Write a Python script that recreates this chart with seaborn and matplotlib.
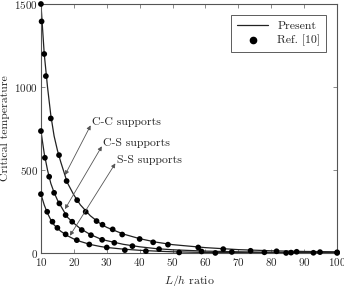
import numpy as np
import pandas as pd
import matplotlib
matplotlib.use("Agg")
import matplotlib.pyplot as plt
import seaborn as sns
from matplotlib.lines import Line2D

# "Present" curves (solid lines)
x_line = [10, 11, 12, 13, 14, 15, 16, 18, 20, 22, 25, 28, 30, 35, 40, 45, 50, 60, 70, 80, 90, 100]
cc_line = [1500, 1200, 1000, 830, 705, 620, 550, 425, 350, 290, 225, 178, 155, 115, 87, 66, 51, 33, 21, 14, 10, 8]
cs_line = [735, 600, 500, 420, 365, 320, 285, 217, 180, 147, 112, 86, 75, 53, 38, 27, 20, 12, 8, 5, 4, 3]
ss_line = [355, 290, 240, 200, 170, 150, 132, 105, 85, 70, 52, 40, 34, 24, 17, 12, 8, 4, 3, 2, 1, 1]

# "Ref. [10]" points
cc_x = [10, 10.2, 11, 11.5, 13, 15.5, 17.8, 21, 23.6, 26.9, 28.7, 31.8, 34.7, 40, 44.1, 48.6, 57.8, 65.4, 73.7, 81.6, 87.7, 94.8, 100]
cc_y = [1500, 1395, 1199, 1066, 811, 590, 434, 319, 249, 193, 171, 143, 112, 85, 65, 51, 34, 24, 14, 11, 8, 6, 5]
cs_x = [10, 11.2, 12.5, 14, 15.6, 17.5, 19.5, 22.4, 25.2, 28.6, 32.3, 37.8, 45.9, 58.8, 68, 77.9, 86, 92.8]
cs_y = [735, 574, 460, 363, 299, 229, 189, 139, 108, 80, 62, 42, 24, 10, 7, 5, 3, 2]
ss_x = [10, 11.9, 13.5, 15, 17.5, 20.9, 24.7, 30, 35.5, 41.9, 52, 63, 84.5, 100]
ss_y = [355, 249, 189, 152, 113, 78, 52, 34, 18, 12, 4, 1, 1, 1]

sns.set_style("ticks")
plt.rcParams["font.family"] = ["cmr10", "DejaVu Serif"]
plt.rcParams["mathtext.fontset"] = "cm"
plt.rcParams["axes.formatter.use_mathtext"] = True

fig = plt.figure(figsize=(3.44, 2.86), dpi=100)
ax = fig.add_axes([0.119, 0.115, 0.861, 0.871])

for yl in [cc_line, cs_line, ss_line]:
    sns.lineplot(x=x_line, y=yl, ax=ax, color="#222222", linewidth=0.9)

for xs, ys in [(cc_x, cc_y), (cs_x, cs_y), (ss_x, ss_y)]:
    sns.scatterplot(x=xs, y=ys, ax=ax, color="black", s=17, edgecolor="none",
                    zorder=3, clip_on=False)

ax.set_xlim(10, 100)
ax.set_ylim(0, 1500)
ax.set_xticks(range(10, 101, 10))
ax.set_yticks([0, 500, 1000, 1500])
ax.tick_params(direction="in", top=True, right=True, labelsize=8, length=3,
               width=0.6, color="#777777", pad=2)
for sp in ax.spines.values():
    sp.set_color("#555555")
    sp.set_linewidth(0.8)

ax.set_xlabel(r"$L/h$ ratio", fontsize=8.5, labelpad=4)
ax.set_ylabel("Critical temperature", fontsize=8.5, labelpad=3)

# annotations with double arrows
notes = [("C-C supports", (25.5, 789), (17.3, 470)),
         ("C-S supports", (28.9, 663), (17.3, 265)),
         ("S-S supports", (33.0, 560), (18.8, 105))]
for label, txt, tip in notes:
    ax.annotate("", xy=tip, xytext=(txt[0] - 0.4, txt[1] - 20),
                arrowprops=dict(arrowstyle="<|-|>", color="#555555", lw=0.6,
                                mutation_scale=6, shrinkA=0, shrinkB=0))
    ax.text(txt[0], txt[1], label, fontsize=8.5, ha="left", va="center")

handles = [Line2D([], [], color="#222222", lw=0.9),
           Line2D([], [], color="black", marker="o", ms=4.5, lw=0)]
leg = ax.legend(handles, ["Present", "Ref. [10]"], loc="upper right",
                fontsize=8.5, frameon=True, fancybox=False, edgecolor="#333333",
                borderaxespad=0.9, handlelength=2.6, labelspacing=0.35,
                borderpad=0.5)
leg.get_frame().set_linewidth(0.7)

fig.savefig("out.png", dpi=100)
